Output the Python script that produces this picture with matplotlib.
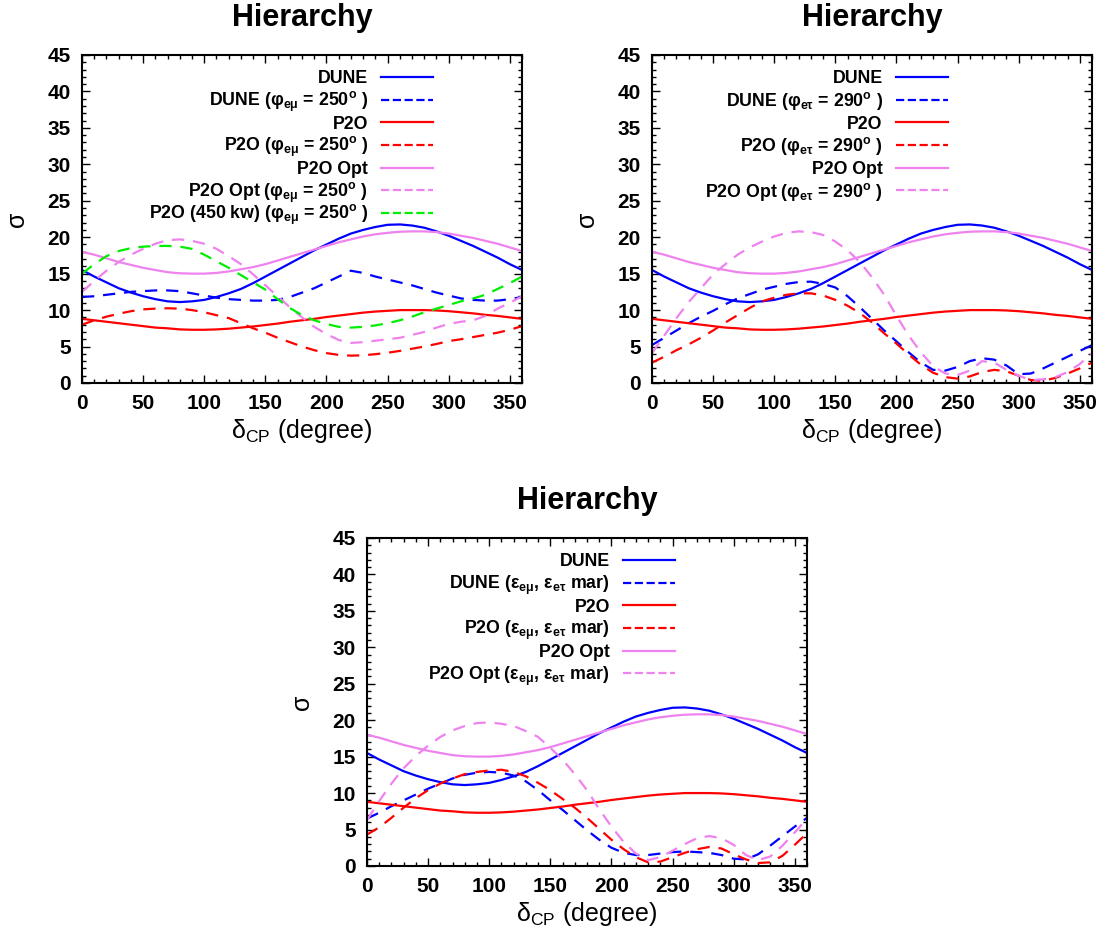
import matplotlib
matplotlib.use("Agg")
import matplotlib.pyplot as plt
from matplotlib.lines import Line2D
from matplotlib.ticker import MultipleLocator
from matplotlib.transforms import offset_copy

plt.rcParams['font.family'] = ['Liberation Sans', 'DejaVu Sans']
plt.rcParams['mathtext.fontset'] = 'custom'
plt.rcParams['mathtext.default'] = 'regular'

# CP phase grid (degrees)
delta_cp = [0, 10, 20, 30, 40, 50, 60, 70, 80, 90, 100, 110, 120, 130, 140, 150, 160, 170, 180,
            190, 200, 210, 220, 230, 240, 250, 260, 270, 280, 290, 300, 310, 320, 330, 340, 350, 360]

# standard-oscillation curves (same in all panels)
dune = [15.5, 14.6, 13.8, 13.0, 12.4, 11.9, 11.5, 11.2, 11.1, 11.2, 11.4, 11.8, 12.3, 12.9, 13.7,
        14.6, 15.5, 16.4, 17.3, 18.2, 19.0, 19.8, 20.5, 21.0, 21.4, 21.7, 21.75, 21.6, 21.3, 20.8,
        20.2, 19.5, 18.8, 18.0, 17.2, 16.3, 15.5]
p2o = [8.8, 8.6, 8.4, 8.2, 8.0, 7.8, 7.6, 7.5, 7.35, 7.3, 7.3, 7.35, 7.45, 7.6, 7.75, 7.95, 8.15,
       8.4, 8.6, 8.8, 9.05, 9.25, 9.45, 9.65, 9.8, 9.9, 10.0, 10.0, 10.0, 9.95, 9.85, 9.7, 9.55,
       9.35, 9.2, 9.0, 8.8]
p2o_opt = [18.0, 17.6, 17.1, 16.6, 16.2, 15.8, 15.5, 15.2, 15.05, 15.0, 15.0, 15.1, 15.3, 15.6,
           15.9, 16.3, 16.8, 17.3, 17.8, 18.3, 18.8, 19.3, 19.7, 20.1, 20.4, 20.6, 20.75, 20.8,
           20.8, 20.7, 20.5, 20.2, 19.9, 19.5, 19.1, 18.6, 18.1]

# NSI phi_emu = 250
dune_emu = [11.8, 11.9, 12.1, 12.3, 12.5, 12.6, 12.7, 12.7, 12.6, 12.3, 12.0, 11.7, 11.5, 11.4,
            11.3, 11.3, 11.4, 11.8, 12.4, 13.0, 13.8, 14.6, 15.4, 15.1, 14.6, 14.2, 13.8, 13.4,
            12.9, 12.4, 12.0, 11.6, 11.4, 11.3, 11.3, 11.5, 11.8]
p2o_emu = [8.0, 8.6, 9.1, 9.5, 9.85, 10.1, 10.2, 10.25, 10.2, 10.0, 9.7, 9.3, 8.9, 8.2, 7.5, 6.9,
           6.2, 5.6, 5.0, 4.5, 4.1, 3.85, 3.75, 3.8, 3.95, 4.15, 4.4, 4.7, 5.0, 5.35, 5.75, 6.0,
           6.3, 6.6, 6.9, 7.3, 7.8]
p2o_opt_emu = [12.5, 14.0, 15.4, 16.6, 17.6, 18.4, 19.1, 19.6, 19.7, 19.5, 19.1, 18.4, 17.4, 16.3,
               14.9, 13.4, 11.9, 10.4, 9.0, 7.7, 6.7, 5.9, 5.5, 5.6, 5.8, 6.0, 6.2, 6.6, 7.0, 7.6,
               8.1, 8.4, 8.6, 9.2, 10.2, 11.0, 11.9]
p2o_450_emu = [15.0, 16.3, 17.4, 18.1, 18.5, 18.7, 18.8, 18.8, 18.7, 18.4, 17.6, 16.7, 15.8, 14.8,
               13.8, 12.8, 11.5, 10.3, 9.3, 8.6, 8.1, 7.7, 7.6, 7.7, 7.9, 8.2, 8.6, 9.1, 9.7, 10.2,
               10.7, 11.2, 11.6, 12.1, 12.9, 13.7, 14.6]

# NSI phi_etau = 290
dune_etau = [5.2, 6.2, 7.2, 8.2, 9.1, 9.9, 10.8, 11.6, 12.2, 12.8, 13.2, 13.6, 13.85, 13.9, 13.6,
             13.1, 11.9, 10.4, 8.8, 7.2, 5.7, 4.2, 2.8, 1.8, 1.7, 2.2, 3.0, 3.4, 3.2, 2.4, 1.2, 1.3,
             2.0, 2.8, 3.6, 4.4, 5.2]
p2o_etau = [2.8, 3.6, 4.5, 5.3, 6.2, 7.2, 8.3, 9.3, 10.3, 11.2, 11.7, 12.1, 12.3, 12.3, 12.0, 11.4,
            10.6, 9.6, 8.3, 6.8, 5.4, 3.9, 2.5, 1.4, 0.8, 0.6, 0.9, 1.5, 1.8, 1.6, 1.0, 0.4, 0.3,
            0.7, 1.3, 2.0, 2.8]
p2o_opt_etau = [4.1, 6.5, 8.9, 11.1, 13.0, 14.9, 16.3, 17.6, 18.6, 19.4, 20.1, 20.6, 20.8, 20.7,
                20.3, 19.4, 18.2, 16.6, 14.5, 12.1, 9.2, 6.5, 4.2, 2.3, 1.3, 1.1, 1.7, 3.0, 2.8,
                1.8, 1.0, 0.4, 0.5, 0.8, 1.5, 2.6, 4.1]

# eps_emu, eps_etau marginalised
dune_mar = [6.5, 7.3, 8.2, 9.0, 9.8, 10.6, 11.3, 12.0, 12.5, 12.8, 12.9, 12.8, 12.4, 11.6, 10.4,
            9.0, 7.7, 6.3, 4.9, 3.6, 2.5, 1.8, 1.5, 1.5, 1.7, 1.9, 2.0, 1.9, 1.8, 1.5, 1.0, 0.9,
            1.6, 2.8, 4.1, 5.4, 6.6]
p2o_mar = [4.3, 5.3, 6.6, 8.0, 9.3, 10.4, 11.3, 12.0, 12.6, 12.9, 13.1, 13.2, 12.9, 12.3, 11.4,
           10.4, 9.2, 8.0, 6.6, 5.1, 3.6, 2.3, 1.2, 0.5, 0.6, 1.2, 1.8, 2.3, 2.6, 2.4, 1.6, 0.9,
           0.4, 0.5, 1.4, 2.9, 4.5]
p2o_opt_mar = [6.3, 8.9, 11.3, 13.4, 15.1, 16.5, 17.7, 18.6, 19.2, 19.6, 19.7, 19.5, 19.2, 18.5,
               17.7, 16.2, 14.6, 12.6, 10.4, 7.8, 5.4, 3.3, 1.7, 0.8, 1.2, 2.1, 3.0, 3.8, 4.1, 3.8,
               2.9, 1.5, 0.8, 1.3, 2.8, 4.6, 6.5]

BLUE = '#0000ff'
RED = '#ff0000'
VIOLET = '#ee82ee'
GREEN = '#00ee00'
DASH = (5.5, 4)
LW = 1.6

fig = plt.figure(figsize=(11.07, 9.38), dpi=100)
ax1 = fig.add_axes([0.0741, 0.5917, 0.3975, 0.3497])
ax2 = fig.add_axes([0.589, 0.5917, 0.3975, 0.3497])
ax3 = fig.add_axes([0.3315, 0.0768, 0.3975, 0.3497])


def key(ax, x_right, y_top=0.933, step=0.0692, length=0.118, gap=0.03):
    # gnuplot-style key: right-aligned labels with the line sample to their right
    handles, labels = ax.get_legend_handles_labels()
    text_tr = offset_copy(ax.transAxes, fig=fig, y=-4.5, units='points')
    for i, (h, lab) in enumerate(zip(handles, labels)):
        y = y_top - i * step
        ax.add_line(Line2D([x_right - length, x_right], [y, y], transform=ax.transAxes,
                           color=h.get_color(), lw=h.get_linewidth(),
                           linestyle=h.get_linestyle(), clip_on=False))
        ax.text(x_right - length - gap, y, lab, transform=text_tr, ha='right', va='baseline',
                fontsize=12.8, fontweight='bold')


def style(ax, legend_x):
    ax.set_xlim(0, 360)
    ax.set_ylim(0, 45)
    ax.xaxis.set_major_locator(MultipleLocator(50))
    ax.xaxis.set_minor_locator(MultipleLocator(10))
    ax.yaxis.set_major_locator(MultipleLocator(5))
    ax.yaxis.set_minor_locator(MultipleLocator(1))
    ax.tick_params(which='both', direction='in', top=True, right=True, width=1.0)
    ax.tick_params(which='major', length=6, labelsize=15, pad=8)
    ax.tick_params(which='minor', length=3)
    for lab in ax.get_xticklabels() + ax.get_yticklabels():
        lab.set_fontweight('bold')
    for sp in ax.spines.values():
        sp.set_linewidth(1.5)
    ax.set_title('Hierarchy', fontsize=22, fontweight='bold', pad=21)
    ax.set_xlabel(r'$δ_{CP}$ (degree)', fontsize=18, labelpad=3)
    ax.set_ylabel('σ', fontsize=18, labelpad=13)
    key(ax, legend_x)


# panel 1: phi_emu = 250
lab = r'($φ_{eμ}$ = 250$^o$ )'
ax1.plot(delta_cp, dune, color=BLUE, lw=LW, label='DUNE')
ax1.plot(delta_cp, dune_emu, color=BLUE, lw=LW, dashes=DASH, label='DUNE ' + lab)
ax1.plot(delta_cp, p2o, color=RED, lw=LW, label='P2O')
ax1.plot(delta_cp, p2o_emu, color=RED, lw=LW, dashes=DASH, label='P2O ' + lab)
ax1.plot(delta_cp, p2o_opt, color=VIOLET, lw=LW, label='P2O Opt')
ax1.plot(delta_cp, p2o_opt_emu, color=VIOLET, lw=LW, dashes=DASH, label='P2O Opt ' + lab)
ax1.plot(delta_cp, p2o_450_emu, color=GREEN, lw=LW, dashes=DASH, label='P2O (450 kw) ' + lab)
style(ax1, 0.798)

# panel 2: phi_etau = 290
lab = r'($φ_{eτ}$ = 290$^o$ )'
ax2.plot(delta_cp, dune, color=BLUE, lw=LW, label='DUNE')
ax2.plot(delta_cp, dune_etau, color=BLUE, lw=LW, dashes=DASH, label='DUNE ' + lab)
ax2.plot(delta_cp, p2o, color=RED, lw=LW, label='P2O')
ax2.plot(delta_cp, p2o_etau, color=RED, lw=LW, dashes=DASH, label='P2O ' + lab)
ax2.plot(delta_cp, p2o_opt, color=VIOLET, lw=LW, label='P2O Opt')
ax2.plot(delta_cp, p2o_opt_etau, color=VIOLET, lw=LW, dashes=DASH, label='P2O Opt ' + lab)
style(ax2, 0.672)

# panel 3: both NSI parameters marginalised
lab = r'($ε_{eμ}$, $ε_{eτ}$ mar)'
ax3.plot(delta_cp, dune, color=BLUE, lw=LW, label='DUNE')
ax3.plot(delta_cp, dune_mar, color=BLUE, lw=LW, dashes=DASH, label='DUNE ' + lab)
ax3.plot(delta_cp, p2o, color=RED, lw=LW, label='P2O')
ax3.plot(delta_cp, p2o_mar, color=RED, lw=LW, dashes=DASH, label='P2O ' + lab)
ax3.plot(delta_cp, p2o_opt, color=VIOLET, lw=LW, label='P2O Opt')
ax3.plot(delta_cp, p2o_opt_mar, color=VIOLET, lw=LW, dashes=DASH, label='P2O Opt ' + lab)
style(ax3, 0.70)

fig.savefig('out.png', dpi=100)
